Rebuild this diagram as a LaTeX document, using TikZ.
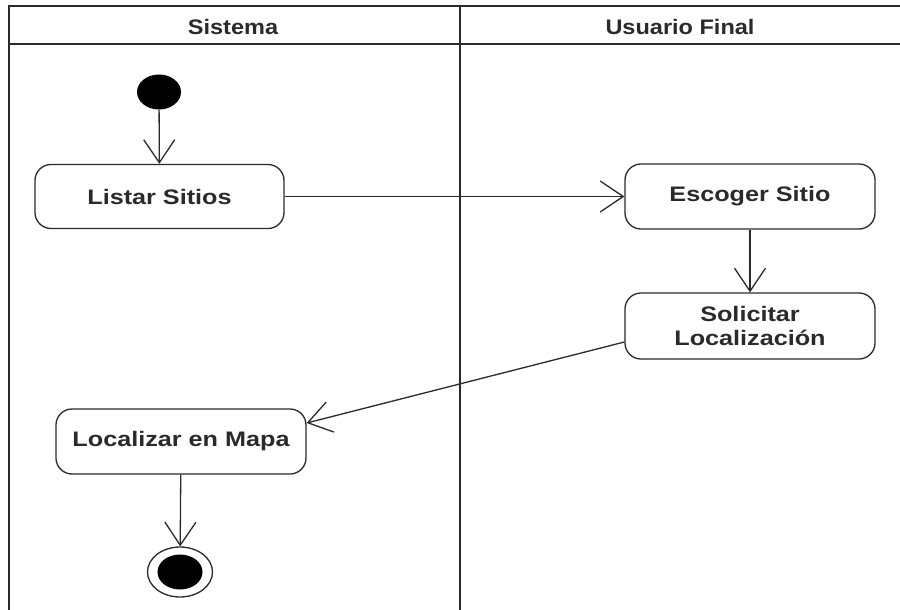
\documentclass[tikz,border=0pt]{standalone}
\usepackage{fontspec}
\usetikzlibrary{arrows.meta,shapes.geometric}
\newfontfamily\lblfont[FakeStretch=1.2]{Liberation Sans}
\newfontfamily\headfont[FakeStretch=1.12]{Liberation Sans}
\definecolor{ink}{HTML}{2A2A2A}
\tikzset{
  frame/.style={draw=ink, line width=1.4pt},
  action/.style={draw=ink, line width=1.3pt, rounded corners=16pt, fill=white,
    minimum width=250pt, minimum height=65pt, inner sep=0pt, align=center,
    text=ink, font=\lblfont\bfseries\fontsize{21}{24}\selectfont},
  lane/.style={text=ink, font=\headfont\bfseries\fontsize{21}{24}\selectfont, inner sep=0pt},
  flow/.style={draw=ink, line width=1.3pt, -{Straight Barb[length=23pt,width=31pt,line width=1.3pt]}},
}
\begin{document}
\begin{tikzpicture}[x=1pt,y=-1pt]
\useasboundingbox (0,0) rectangle (900,610);
\fill[white] (0,0) rectangle (900,610);
% swimlane frame
\coordinate (tl) at (9,6);
\coordinate (tr) at (900,6);
\coordinate (hl) at (9,44);
\coordinate (hr) at (900,44);
\coordinate (bl) at (9,610);
\coordinate (dt) at (460,6);
\coordinate (db) at (460,610);
\draw[frame] (tr) -- (tl) -- (bl);
\draw[frame] (hl) -- (hr);
\draw[frame] (dt) -- (db);
\node[lane] (h1) at (233,27) {Sistema};
\node[lane] (h2) at (680,27) {Usuario Final};
% nodes
\node[ellipse, fill=black, minimum width=44pt, minimum height=35pt, inner sep=0pt] (start) at (159,92) {};
\node[action, minimum width=249pt, minimum height=64pt] (listar) at (159.5,196.5) {Listar Sitios};
\node[action] (escoger) at (750,196.5) {Escoger Sitio};
\node[action, minimum height=66pt] (solic) at (750,326) {Solicitar\\Localización};
\node[action] (local) at (181,441.5) {Localizar en Mapa};
\node[ellipse, draw=ink, line width=1.3pt, fill=white, minimum width=65pt, minimum height=50pt, inner sep=0pt] (endo) at (180,572) {};
\node[ellipse, fill=black, minimum width=45pt, minimum height=35pt, inner sep=0pt] (endi) at (180,572) {};
% flows
\draw[flow] (start) -- (listar);
\draw[flow] (listar) -- (escoger);
\draw[flow] (escoger) -- (solic);
\draw[flow] ([yshift=-16pt]solic.west) -- ([yshift=18.5pt]local.east);
\draw[flow] (local) -- (endo);
\end{tikzpicture}
\end{document}
